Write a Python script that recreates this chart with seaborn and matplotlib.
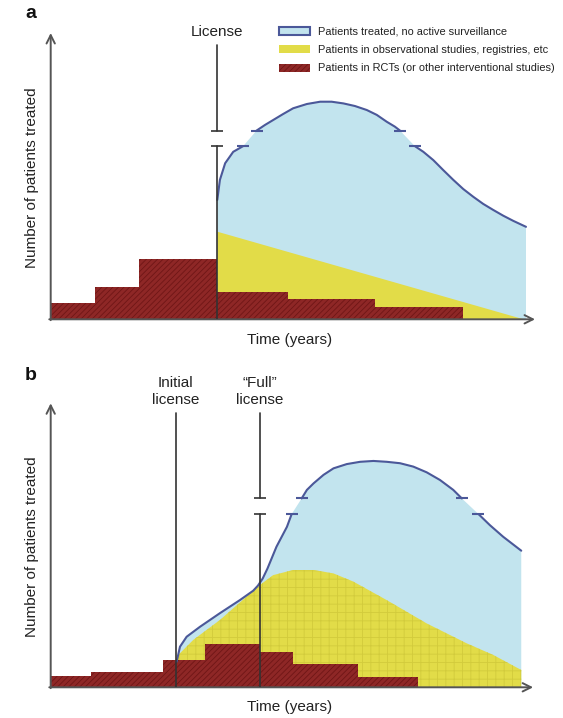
import numpy as np
import matplotlib
matplotlib.use("Agg")
import matplotlib.pyplot as plt
import seaborn as sns
from matplotlib.patches import Patch

# ---------------- data (arbitrary units: time 0-100, patients 0-100) -------------
# Panel a
A_RCT_EDGES = [0, 9.4, 18.5, 35.05, 49.9, 68.2, 86.7]
A_RCT_HEIGHTS = [5.6, 11.2, 21.0, 9.6, 7.0, 4.2]
A_OBS_X = [35.05, 99.5]
A_OBS_Y = [30.6, 0.0]
A_CURVE1_X = [35.05, 35.6, 36.7, 38.4, 40.5]
A_CURVE1_Y = [41.7, 48.7, 54.5, 58.5, 60.5]
A_CURVE2_X = [43.3, 45.1, 46.8, 48.9, 51.0, 53.9, 56.7, 59.1, 61.6, 64.0,
              66.5, 68.6, 70.7, 72.4, 73.5]
A_CURVE2_Y = [65.9, 67.9, 69.6, 71.7, 73.7, 75.2, 76.0, 76.0, 75.4, 74.5,
              73.1, 71.4, 69.0, 67.3, 65.9]
A_CURVE3_X = [76.6, 78.4, 80.5, 82.6, 84.7, 86.8, 88.9, 91.0, 93.1, 95.2, 97.3, 100.0]
A_CURVE3_Y = [60.5, 58.5, 55.6, 52.1, 48.7, 45.5, 42.8, 40.3, 38.2, 36.2, 34.4, 32.3]
A_LICENSE_X = 35.05
A_BREAK_Y = [60.5, 65.9]

# Panel b
B_RCT_EDGES = [0, 8.5, 23.7, 32.5, 44.0, 51.0, 64.7, 77.3]
B_RCT_HEIGHTS = [4.0, 5.5, 9.6, 15.2, 12.5, 8.2, 3.7]
B_OBS_X = [26.3, 27.2, 30.0, 35.6, 41.2, 44.0, 46.8, 51.0, 55.3, 59.5, 63.7,
           70.7, 79.1, 87.5, 93.1, 99.0]
B_OBS_Y = [9.0, 12.0, 16.7, 23.7, 31.9, 36.0, 39.5, 41.3, 41.3, 40.1, 37.2,
           30.7, 22.5, 15.5, 11.4, 6.1]
B_CURVE1_X = [26.5, 27.2, 28.6, 31.4, 35.6, 39.8, 42.6, 43.6, 44.6, 45.6, 47.5, 49.7, 50.7]
B_CURVE1_Y = [9.0, 14.3, 17.8, 21.3, 26.1, 30.7, 34.0, 35.8, 38.3, 41.8, 49.5, 56.5, 61.0]
B_CURVE2_X = [52.8, 53.9, 55.3, 57.4, 59.5, 62.3, 65.1, 67.9, 70.7, 73.5,
              76.3, 79.1, 81.9, 84.7, 86.5]
B_CURVE2_Y = [66.5, 69.5, 71.8, 74.8, 77.1, 78.6, 79.4, 79.7, 79.4, 78.9,
              77.7, 75.7, 73.0, 69.5, 66.5]
B_CURVE3_X = [90.0, 92.4, 95.2, 99.0]
B_CURVE3_Y = [61.0, 57.1, 53.0, 48.1]
B_INITIAL_X = 26.3
B_FULL_X = 44.0
B_BREAK_Y = [61.0, 66.5]

LEGEND_LABELS = ["Patients treated, no active surveillance",
                 "Patients in observational studies, registries, etc",
                 "Patients in RCTs (or other interventional studies)"]

# ---------------- style ----------------
sns.set_theme(style="white")
plt.rcParams["font.family"] = ["Liberation Sans", "DejaVu Sans"]
plt.rcParams["hatch.linewidth"] = 0.6

BLUE_FILL = "#c2e4ee"
BLUE_LINE = "#4b5899"
YELLOW = "#e2dc48"
YELLOW_HATCH = "#d2cb3c"
RED = "#8e2726"
RED_HATCH = "#6f1616"
AXIS_C = "#555555"
LINE_C = "#333333"
TEXT_C = "#222222"

fig = plt.figure(figsize=(5.63, 7.18), dpi=100)


def make_axes(bottom_px, px_per_unit_y):
    left = 50.7 / 563
    width = 104 * 4.753 / 563
    bottom = 1 - bottom_px / 718
    height = 105 * px_per_unit_y / 718
    ax = fig.add_axes([left, bottom, width, height])
    ax.set_xlim(0, 104)
    ax.set_ylim(0, 105)
    ax.set_axis_off()
    return ax


def draw_panel(ax, rct_edges, rct_heights, obs_x, obs_y, curves, arrow_x,
               obs_hatch):
    cx = np.concatenate([c[0] for c in curves])
    cy = np.concatenate([c[1] for c in curves])
    # blue area (patients treated without surveillance)
    ax.fill(np.concatenate([cx, [cx[-1], cx[0]]]),
            np.concatenate([cy, [0, 0]]), color=BLUE_FILL, lw=0, zorder=1)
    # yellow area
    ax.fill(np.concatenate([obs_x, [obs_x[-1], obs_x[0]]]),
            np.concatenate([obs_y, [0, 0]]), facecolor=YELLOW,
            edgecolor=YELLOW_HATCH, hatch=obs_hatch, lw=0, zorder=2)
    # red steps
    ax.stairs(rct_heights, rct_edges, fill=True, facecolor=RED,
              edgecolor=RED_HATCH, hatch="//////", lw=0, zorder=3)
    # blue curve pieces with break ticks
    for i, (x, y) in enumerate(curves):
        sns.lineplot(x=x, y=y, sort=False, estimator=None, ax=ax,
                     color=BLUE_LINE, lw=1.5, zorder=5)
        ends = []
        if i > 0:
            ends.append(0)
        if i < len(curves) - 1:
            ends.append(-1)
        for e in ends:
            ax.plot([x[e]], [y[e]], marker="_", ms=8, mew=1.5,
                    color=BLUE_LINE, zorder=6)
    # axes arrows
    ax.annotate("", xy=(0, 100), xytext=(0, -0.3),
                arrowprops=dict(arrowstyle="->,head_length=0.5,head_width=0.25",
                                color=AXIS_C, lw=1.4, shrinkA=0, shrinkB=0),
                annotation_clip=False, zorder=7)
    ax.annotate("", xy=(arrow_x, 0), xytext=(-0.3, 0),
                arrowprops=dict(arrowstyle="->,head_length=0.5,head_width=0.25",
                                color=AXIS_C, lw=1.4, shrinkA=0, shrinkB=0),
                annotation_clip=False, zorder=7)


def license_line(ax, x, top, breaks=None):
    if breaks is None:
        ax.plot([x, x], [0, top], color=LINE_C, lw=1.2, zorder=8)
    else:
        lo, hi = breaks
        ax.plot([x, x], [0, lo], color=LINE_C, lw=1.2, zorder=8)
        ax.plot([x, x], [hi, top], color=LINE_C, lw=1.2, zorder=8)
        ax.plot([x, x], [lo, hi], ls="none", marker="_", ms=8, mew=1.2,
                color=LINE_C, zorder=8)


# ---------------- panel a ----------------
ax_a = make_axes(319.3, 2.863)
draw_panel(ax_a, A_RCT_EDGES, A_RCT_HEIGHTS, A_OBS_X, A_OBS_Y,
           [(np.array(A_CURVE1_X), np.array(A_CURVE1_Y)),
            (np.array(A_CURVE2_X), np.array(A_CURVE2_Y)),
            (np.array(A_CURVE3_X), np.array(A_CURVE3_Y))], 101.9, None)
license_line(ax_a, A_LICENSE_X, 95.8, A_BREAK_Y)
ax_a.text(A_LICENSE_X, 100.3, "License", ha="center", va="center", fontsize=11,
          color=TEXT_C)
ax_a.text(50.3, -7.4, "Time (years)", ha="center", va="center", fontsize=11,
          color=TEXT_C)
ax_a.text(-3.9, 49.3, "Number of patients treated", rotation=90, ha="center",
          va="center", fontsize=11, color=TEXT_C)
fig.text(25 / 563, 1 - 13 / 718, "a", fontsize=14, fontweight="bold",
         ha="left", va="center", color="#111111")

handles = [Patch(facecolor=BLUE_FILL, edgecolor=BLUE_LINE, lw=1.5),
           Patch(facecolor=YELLOW, edgecolor="none"),
           Patch(facecolor=RED, edgecolor=RED_HATCH, hatch="//////", lw=0)]
fig.legend(handles, LEGEND_LABELS, loc="upper left",
           bbox_to_anchor=(279 / 563, 1 - 27.0 / 718), frameon=False,
           fontsize=7.9, handlelength=2.8, handleheight=0.75,
           labelspacing=0.75, handletextpad=0.75, borderpad=0,
           borderaxespad=0, labelcolor=TEXT_C)

# ---------------- panel b ----------------
ax_b = make_axes(687.3, 2.84)
draw_panel(ax_b, B_RCT_EDGES, B_RCT_HEIGHTS, B_OBS_X, B_OBS_Y,
           [(np.array(B_CURVE1_X), np.array(B_CURVE1_Y)),
            (np.array(B_CURVE2_X), np.array(B_CURVE2_Y)),
            (np.array(B_CURVE3_X), np.array(B_CURVE3_Y))], 101.5, "++")
license_line(ax_b, B_INITIAL_X, 96.5)
license_line(ax_b, B_FULL_X, 96.5, B_BREAK_Y)
ax_b.text(B_INITIAL_X, 104.1, "Initial\nlicense", ha="center", va="center",
          fontsize=11, color=TEXT_C, linespacing=1.25)
ax_b.text(B_FULL_X, 104.1, "\u201cFull\u201d\nlicense", ha="center", va="center",
          fontsize=11, color=TEXT_C, linespacing=1.25)
ax_b.text(50.3, -6.9, "Time (years)", ha="center", va="center", fontsize=11,
          color=TEXT_C)
ax_b.text(-3.9, 49.5, "Number of patients treated", rotation=90, ha="center",
          va="center", fontsize=11, color=TEXT_C)
fig.text(25 / 563, 1 - 375 / 718, "b", fontsize=14, fontweight="bold",
         ha="left", va="center", color="#111111")

fig.savefig("out.png", dpi=100)
